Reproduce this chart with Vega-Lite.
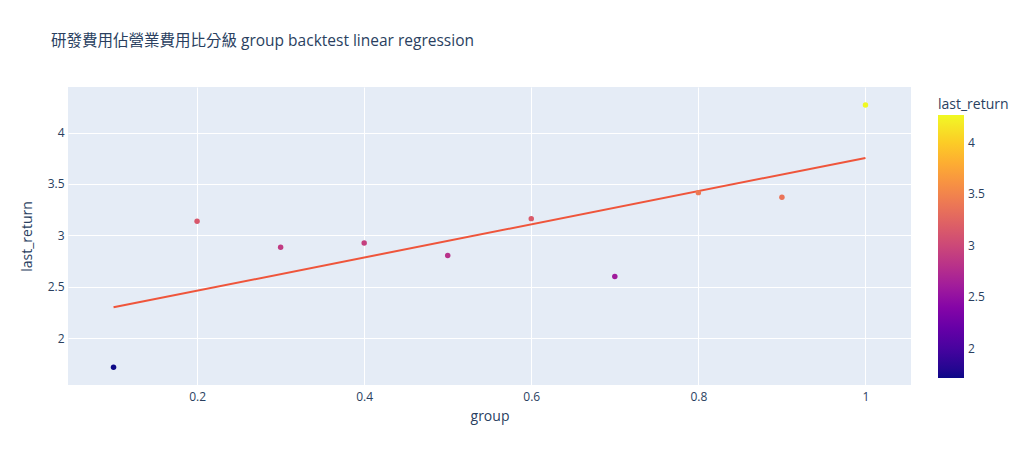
{
  "$schema": "https://vega.github.io/schema/vega-lite/v6.json",
  "width": 843,
  "height": 298,
  "autosize": {"type": "none"},
  "padding": {"left": 68, "top": 87, "right": 113, "bottom": 70},
  "background": "white",
  "title": {
    "text": "研發費用佔營業費用比分級 group backtest linear regression",
    "anchor": "start",
    "frame": "group",
    "dx": -17,
    "offset": 26,
    "baseline": "alphabetic",
    "font": "Open Sans, Noto Sans CJK TC",
    "fontSize": 15.5,
    "fontWeight": "normal",
    "color": "#2a3f5f"
  },
  "config": {
    "view": {"fill": "#e5ecf6", "stroke": null},
    "axis": {
      "domain": false,
      "ticks": false,
      "gridColor": "white",
      "gridWidth": 1,
      "labelFont": "Open Sans",
      "labelFontSize": 12,
      "labelColor": "#2a3f5f",
      "titleFont": "Open Sans",
      "titleFontSize": 14,
      "titleFontWeight": "normal",
      "titleColor": "#2a3f5f"
    },
    "legend": {
      "labelFont": "Open Sans",
      "labelFontSize": 12,
      "labelColor": "#2a3f5f",
      "titleFont": "Open Sans",
      "titleFontSize": 14,
      "titleFontWeight": "normal",
      "titleColor": "#2a3f5f"
    }
  },
  "datasets": {
    "points": [
      {"group": 0.1, "last_return": 1.715},
      {"group": 0.2, "last_return": 3.136},
      {"group": 0.3, "last_return": 2.883},
      {"group": 0.4, "last_return": 2.925},
      {"group": 0.5, "last_return": 2.803},
      {"group": 0.6, "last_return": 3.162},
      {"group": 0.7, "last_return": 2.599},
      {"group": 0.8, "last_return": 3.415},
      {"group": 0.9, "last_return": 3.369},
      {"group": 1.0, "last_return": 4.268}
    ],
    "fit": [
      {"group": 0.1, "fitted": 2.299},
      {"group": 1.0, "fitted": 3.753}
    ]
  },
  "layer": [
    {
      "data": {"name": "fit"},
      "mark": {"type": "line", "color": "#EF553B", "strokeWidth": 2},
      "encoding": {
        "x": {"field": "group", "type": "quantitative"},
        "y": {"field": "fitted", "type": "quantitative"}
      }
    },
    {
      "data": {"name": "points"},
      "mark": {"type": "circle", "size": 30, "opacity": 1},
      "encoding": {
        "x": {
          "field": "group",
          "type": "quantitative",
          "title": "group",
          "scale": {"domain": [0.0455, 1.0545], "nice": false, "zero": false},
          "axis": {"values": [0.2, 0.4, 0.6, 0.8, 1], "format": "~g", "labelPadding": 6, "titlePadding": 7}
        },
        "y": {
          "field": "last_return",
          "type": "quantitative",
          "title": "last_return",
          "scale": {"domain": [1.543, 4.443], "nice": false, "zero": false},
          "axis": {"values": [2, 2.5, 3, 3.5, 4], "format": "~g", "labelPadding": 4, "titlePadding": 13}
        },
        "color": {
          "field": "last_return",
          "type": "quantitative",
          "title": "last_return",
          "scale": {"scheme": "plasma", "domain": [1.715, 4.268], "nice": false, "zero": false},
          "legend": {
            "orient": "none",
            "legendX": 870,
            "legendY": 11,
            "direction": "vertical",
            "gradientLength": 263,
            "gradientThickness": 26,
            "gradientStrokeWidth": 0,
            "values": [2, 2.5, 3, 3.5, 4],
            "format": "~g",
            "titlePadding": 3,
            "labelOffset": 4
          }
        }
      }
    }
  ]
}
